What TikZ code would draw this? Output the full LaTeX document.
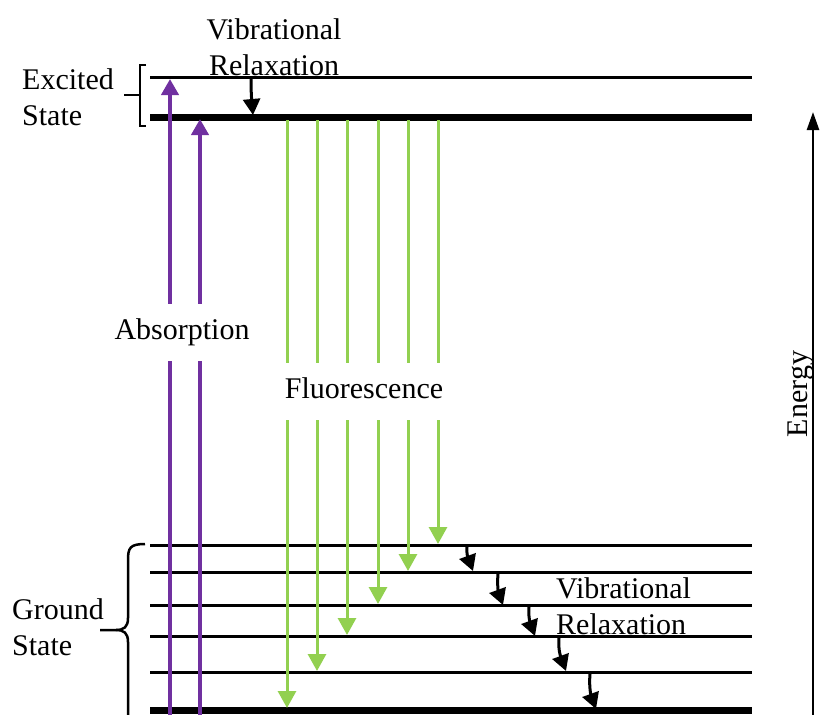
\documentclass[tikz,border=0pt]{standalone}
\usepackage{fontspec}
\setmainfont{Liberation Serif}
\usetikzlibrary{arrows.meta}
\definecolor{absorb}{HTML}{7030A0}
\definecolor{fluor}{HTML}{92D050}
\tikzset{
  level/.style={line width=3pt},
  mainlevel/.style={line width=7pt},
  uparrow/.style={absorb,line width=4pt,-{Triangle[width=17pt,length=16pt]}},
  downarrow/.style={fluor,line width=3pt,-{Triangle[width=18pt,length=17pt]}},
  relax/.style={line width=3pt,-{Triangle[width=17pt,length=16pt]}},
  txt/.style={font=\fontsize{30}{36}\selectfont,inner sep=0pt},
  gap/.style={txt,fill=white,text height=21pt,text depth=7pt,inner xsep=3pt,inner ysep=14.5pt},
}

\begin{document}
\begin{tikzpicture}[x=1pt,y=-1pt]
    \useasboundingbox (0,0) rectangle (825,715);
    % excited state
    \coordinate (e1l) at (150,77);  \coordinate (e1r) at (752,77);
    \coordinate (e0l) at (150,117); \coordinate (e0r) at (752,117);
    \draw[level] (e1l) -- (e1r);
    \draw[mainlevel] (e0l) -- (e0r);
    % ground state
    \foreach \y/\n in {545/5,572/4,605/3,636/2,672/1}{
        \coordinate (g\n l) at (150,\y);
        \coordinate (g\n r) at (752,\y);
        \draw[level] (g\n l) -- (g\n r);
    }
    \coordinate (g0l) at (150,710); \coordinate (g0r) at (752,710);
    \draw[mainlevel] (g0l) -- (g0r);

    % absorption
    \coordinate (a1s) at (170,715); \coordinate (a1e) at (170,79);
    \coordinate (a2s) at (200,715); \coordinate (a2e) at (200,119);
    \draw[uparrow] (a1s) -- (a1e);
    \draw[uparrow] (a2s) -- (a2e);
    \node[gap] (absorption) at (182,332) {Absorption};

    % fluorescence
    \foreach \x/\y/\n in {438/544/5,408/571/4,378/604/3,347/635/2,317/671/1,287/708/0}{
        \coordinate (f\n s) at (\x,120);
        \coordinate (f\n e) at (\x,\y);
        \draw[downarrow] (f\n s) -- (f\n e);
    }
    \node[gap] (fluorescence) at (364,391) {Fluorescence};

    % vibrational relaxation
    \coordinate (v0s) at (251,79); \coordinate (v0e) at (253,115);
    \draw[relax] (v0s) to[out=-90,in=95] (v0e);
    \foreach \xa/\ya/\xb/\yb/\n in {467/547/473/571/5,498/574/503/605/4,529/607/535/636/3,559/638/566/671/2,590/674/596/709/1}{
        \coordinate (v\n s) at (\xa,\ya);
        \coordinate (v\n e) at (\xb,\yb);
        \draw[relax] (v\n s) to[out=-95,in=110] (v\n e);
    }

    % labels
    \node[txt,align=center] (vibtop) at (274,47) {Vibrational\\Relaxation};
    \node[txt,align=left,anchor=west] (vibbot) at (556,606) {Vibrational\\Relaxation};
    \node[txt,align=left,anchor=west] (excited) at (22,97) {Excited\\State};
    \node[txt,align=left,anchor=west] (ground) at (12,627) {Ground\\State};

    % brackets
    \draw[line width=2.5pt] (146,65) -- (140,65) -- (140,126) -- (146,126);
    \draw[line width=2.5pt] (124,95) -- (140,95);
    \draw[line width=2.5pt] (145,544) .. controls (130,544) and (128,548) .. (128,560) -- (128,618)
        .. controls (128,627) and (124,630) .. (116,630) -- (100,630);
    \draw[line width=2.5pt] (116,630) .. controls (124,630) and (128,633) .. (128,642) -- (128,720);

    % energy axis
    \coordinate (en0) at (813,715); \coordinate (en1) at (813,112);
    \draw[line width=2.5pt,-{Triangle[width=12pt,length=18pt]}] (en0) -- (en1);
    \node[txt,rotate=90] (energy) at (801,394) {Energy};
\end{tikzpicture}
\end{document}
